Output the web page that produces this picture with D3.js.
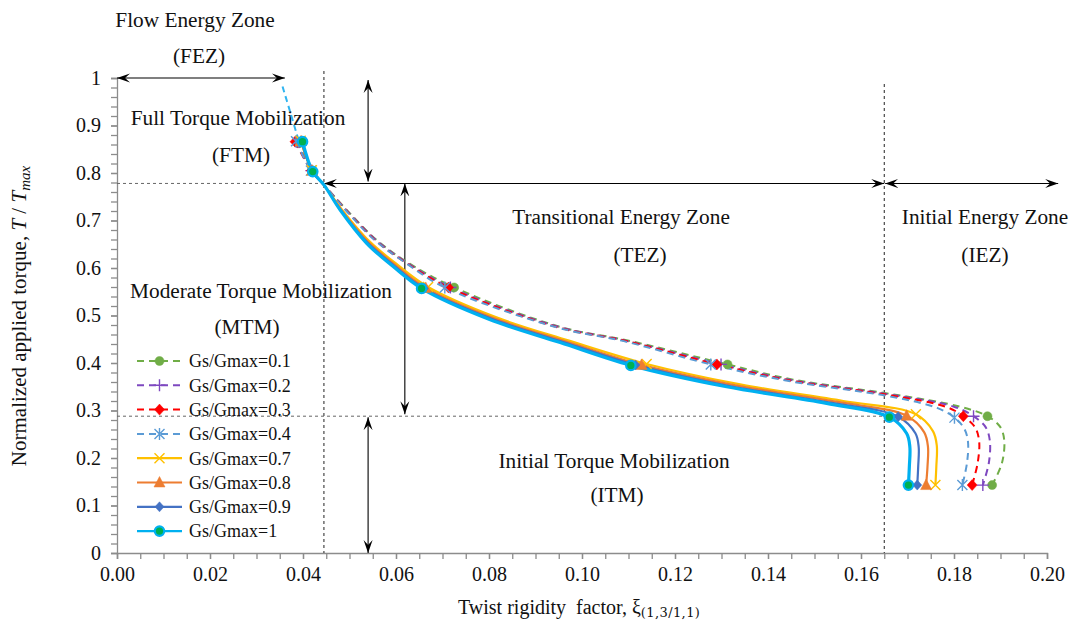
<!DOCTYPE html>
<html>
<head>
<meta charset="utf-8">
<script src="https://cdn.jsdelivr.net/npm/d3@7"></script>
<style>
  body { margin: 0; background: #fff; }
  text { font-family: "Liberation Serif", "Times New Roman", serif; fill: #111; }
</style>
</head>
<body>
<svg id="chart" width="1075" height="630"></svg>
<script>
// ---- Data: normalized torque T/Tmax against twist rigidity factor ----
const seriesNames = ["Gs/Gmax=0.1", "Gs/Gmax=0.2", "Gs/Gmax=0.3", "Gs/Gmax=0.4",
                     "Gs/Gmax=0.7", "Gs/Gmax=0.8", "Gs/Gmax=0.9", "Gs/Gmax=1"];

// [xi, T/Tmax] pairs along each curve
const g01 = [[0.0388,0.866],[0.0419,0.806],[0.0445,0.775],[0.0501,0.715],[0.0558,0.659],[0.0623,0.613],
             [0.0725,0.559],[0.0953,0.476],[0.1096,0.448],[0.1313,0.397],[0.1454,0.365],[0.1669,0.334],
             [0.1813,0.308],[0.1872,0.288],[0.1899,0.266],[0.1908,0.238],[0.1903,0.189],[0.1882,0.143]];
const g02 = [[0.0386,0.866],[0.0418,0.805],[0.0445,0.775],[0.0500,0.715],[0.0557,0.659],[0.0621,0.613],
             [0.0717,0.559],[0.0950,0.476],[0.1094,0.447],[0.1299,0.397],[0.1450,0.364],[0.1666,0.333],
             [0.1800,0.308],[0.1842,0.288],[0.1868,0.265],[0.1877,0.237],[0.1875,0.190],[0.1862,0.143]];
const g03 = [[0.0383,0.866],[0.0418,0.805],[0.0445,0.775],[0.0500,0.714],[0.0556,0.658],[0.0620,0.612],
             [0.0713,0.559],[0.0948,0.475],[0.1092,0.447],[0.1290,0.397],[0.1448,0.363],[0.1663,0.332],
             [0.1785,0.307],[0.1820,0.288],[0.1845,0.265],[0.1854,0.236],[0.1851,0.190],[0.1839,0.143]];
const g04 = [[0.0385,0.867],[0.0417,0.805],[0.0445,0.775],[0.0499,0.714],[0.0555,0.658],[0.0619,0.612],
             [0.0705,0.559],[0.0946,0.475],[0.1090,0.446],[0.1277,0.397],[0.1445,0.362],[0.1660,0.330],
             [0.1765,0.305],[0.1801,0.285],[0.1822,0.262],[0.1830,0.235],[0.1828,0.190],[0.1818,0.143]];
const g07 = [[0.0395,0.868],[0.0419,0.806],[0.0445,0.775],[0.0483,0.724],[0.0543,0.656],[0.0603,0.607],
             [0.0669,0.560],[0.0816,0.496],[0.0972,0.447],[0.1139,0.398],[0.1340,0.355],[0.1562,0.320],
             [0.1718,0.292],[0.1755,0.256],[0.1763,0.226],[0.1762,0.182],[0.1760,0.143]];
const g08 = [[0.0396,0.867],[0.0420,0.805],[0.0445,0.775],[0.0482,0.723],[0.0541,0.654],[0.0600,0.605],
             [0.0664,0.558],[0.0811,0.494],[0.0966,0.445],[0.1128,0.396],[0.1330,0.353],[0.1550,0.318],
             [0.1698,0.289],[0.1736,0.254],[0.1744,0.224],[0.1743,0.182],[0.1740,0.143]];
const g09 = [[0.0397,0.866],[0.0420,0.804],[0.0445,0.775],[0.0481,0.722],[0.0539,0.653],[0.0597,0.604],
             [0.0660,0.557],[0.0806,0.493],[0.0960,0.444],[0.1115,0.396],[0.1320,0.351],[0.1538,0.316],
             [0.1680,0.287],[0.1717,0.252],[0.1724,0.224],[0.1723,0.182],[0.1721,0.143]];
const g10 = [[0.0399,0.866],[0.0421,0.803],[0.0445,0.775],[0.0480,0.722],[0.0537,0.652],[0.0594,0.603],
             [0.0655,0.557],[0.0800,0.492],[0.0953,0.443],[0.1105,0.395],[0.1311,0.350],[0.1526,0.315],
             [0.1661,0.286],[0.1698,0.252],[0.1705,0.224],[0.1704,0.182],[0.1702,0.143]];
const seriesValues = [g01, g02, g03, g04, g07, g08, g09, g10];

// indices of the points that carry a marker symbol
const markerIdxDashed = [0, 1, 6, 9, 13, 17];
const markerIdxSolid  = [0, 1, 6, 9, 12, 16];

// flow-zone extension of the stiffest curve towards full torque
const flowExtension = [[0.0356,0.982],[0.0372,0.930],[0.0389,0.874]];

// zone boundaries
const xBoundTEZ = 0.0445, xBoundIEZ = 0.165;
const yBoundFTM = 0.778,  yBoundITM = 0.288;

const xTicks = d3.range(0, 0.2001, 0.02);
const xMinorTicks = d3.range(0, 0.2001, 0.005);
const yTicks = d3.range(0, 1.0001, 0.1);
const yMinorTicks = d3.range(0, 1.0001, 0.02);

// ---- Styles ----
const colors  = ["#70AD47", "#7E48C0", "#FF0000", "#5B9BD5", "#FFC000", "#ED7D31", "#4472C4", "#00B0F0"];
const dashed  = [true, true, true, true, false, false, false, false];
const symbols = ["circle", "plus", "diamond", "asterisk", "x", "triangle", "smalldiamond", "ringcircle"];

const svg = d3.select("#chart");
const x = d3.scaleLinear().domain([0, 0.2]).range([117, 1047]);
const y = d3.scaleLinear().domain([0, 1]).range([553, 78]);

// arrowhead
const defs = svg.append("defs");
defs.append("marker")
  .attr("id", "arrow").attr("viewBox", "-13 -6 14 12")
  .attr("refX", 0).attr("refY", 0)
  .attr("markerWidth", 14).attr("markerHeight", 12)
  .attr("markerUnits", "userSpaceOnUse")
  .attr("orient", "auto-start-reverse")
  .append("path").attr("d", "M0,0 L-13,-4.5 L-8,0 L-13,4.5 Z").attr("fill", "#000");

// ---- Axes ----
const axisColor = "#8c8c8c";
svg.append("g").attr("transform", `translate(0,${y(0)})`)
  .call(d3.axisBottom(x).tickValues(xTicks).tickFormat(d3.format(".2f")).tickSize(6).tickPadding(8));
svg.append("g").attr("transform", `translate(0,${y(0)})`)
  .call(d3.axisBottom(x).tickValues(xMinorTicks).tickFormat("").tickSize(6))
  .call(g => g.select(".domain").remove());
svg.append("g").attr("transform", `translate(${x(0)},0)`)
  .call(d3.axisLeft(y).tickValues(yTicks).tickFormat(d => d3.format("")(+d.toFixed(1))).tickSize(6).tickPadding(10));
svg.append("g").attr("transform", `translate(${x(0)},0)`)
  .call(d3.axisLeft(y).tickValues(yMinorTicks).tickFormat("").tickSize(6))
  .call(g => g.select(".domain").remove());
svg.selectAll(".domain, .tick line").attr("stroke", axisColor).attr("stroke-width", 1.3);
svg.selectAll(".tick text").style("font-family", '"Liberation Serif", serif')
  .style("font-size", "20px").attr("fill", "#111");

// ---- Zone boundary lines ----
const guide = svg.append("g").attr("stroke", "#222").attr("stroke-width", 1).attr("stroke-dasharray", "3,3").attr("fill", "none");
guide.append("line").attr("x1", x(xBoundTEZ)).attr("x2", x(xBoundTEZ)).attr("y1", 71).attr("y2", y(0));
guide.append("line").attr("x1", x(xBoundIEZ)).attr("x2", x(xBoundIEZ)).attr("y1", 84).attr("y2", y(0));
guide.append("line").attr("x1", x(0)).attr("x2", x(xBoundTEZ)).attr("y1", y(yBoundFTM)).attr("y2", y(yBoundFTM)).attr("stroke", "#666");
guide.append("line").attr("x1", x(0)).attr("x2", x(xBoundIEZ)).attr("y1", y(yBoundITM)).attr("y2", y(yBoundITM)).attr("stroke", "#666");

// ---- Double arrows marking the zones ----
const arrows = [
  [[0, 1.0], [0.0361, 1.0]],
  [[0.054, 0.996], [0.054, yBoundFTM + 0.004]],
  [[xBoundTEZ, yBoundFTM], [xBoundIEZ, yBoundFTM]],
  [[xBoundIEZ + 0.0002, yBoundFTM], [0.2024, yBoundFTM]],
  [[0.0619, yBoundFTM], [0.0619, yBoundITM + 0.004]],
  [[0.054, yBoundITM - 0.002], [0.054, 0]]
];
svg.append("g").selectAll("line").data(arrows).join("line")
  .attr("x1", d => x(d[0][0])).attr("y1", d => y(d[0][1]))
  .attr("x2", d => x(d[1][0])).attr("y2", d => y(d[1][1]))
  .attr("stroke", "#000").attr("stroke-width", 1.1)
  .attr("marker-start", "url(#arrow)").attr("marker-end", "url(#arrow)");

// ---- Zone labels ----
const labels = [
  ["Flow Energy Zone", 195, 27], ["(FEZ)", 199, 63],
  ["Full Torque Mobilization", 238, 125], ["(FTM)", 241, 162],
  ["Transitional Energy Zone", 621, 224], ["(TEZ)", 640, 262],
  ["Initial Energy Zone", 985, 224], ["(IEZ)", 985, 262],
  ["Moderate Torque Mobilization", 261, 298], ["(MTM)", 247, 334],
  ["Initial Torque Mobilization", 614, 468], ["(ITM)", 617, 502]
];
svg.append("g").selectAll("text").data(labels).join("text")
  .attr("x", d => d[1]).attr("y", d => d[2]).attr("text-anchor", "middle")
  .style("font-size", "21.3px").text(d => d[0]);

// ---- Symbols ----
function symbolPath(type) {
  switch (type) {
    case "circle":       return d3.symbol(d3.symbolCircle, 64)();
    case "ringcircle":   return d3.symbol(d3.symbolCircle, 70)();
    case "diamond":      return "M0,-5.5L5,0L0,5.5L-5,0Z";
    case "smalldiamond": return "M0,-5L4.5,0L0,5L-4.5,0Z";
    case "triangle":     return "M0,-6L5.5,4.5L-5.5,4.5Z";
    case "plus":         return "M-6,0H6M0,-6V6";
    case "x":            return "M-5,-5L5,5M-5,5L5,-5";
    case "asterisk":     return "M-5,-5L5,5M-5,5L5,-5M0,-6V6";
  }
}
function drawSymbol(g, i, cx, cy) {
  const type = symbols[i], c = colors[i];
  const p = g.append("path").attr("d", symbolPath(type)).attr("transform", `translate(${cx},${cy})`);
  if (type === "plus" || type === "x" || type === "asterisk") {
    p.attr("fill", "none").attr("stroke", c).attr("stroke-width", 1.4);
  } else if (type === "ringcircle") {
    p.attr("fill", "#00B050").attr("stroke", c).attr("stroke-width", 2.2);
  } else {
    p.attr("fill", c).attr("stroke", c).attr("stroke-width", 0.5);
  }
}

// ---- Curves ----
const line = d3.line().x(d => x(d[0])).y(d => y(d[1])).curve(d3.curveCatmullRom.alpha(0.5));
const plot = svg.append("g");

plot.append("path").datum(flowExtension).attr("d", line)
  .attr("fill", "none").attr("stroke", "#30B4F0").attr("stroke-width", 2)
  .attr("stroke-dasharray", "6,4");

seriesValues.forEach((vals, i) => {
  plot.append("path").datum(vals).attr("d", line)
    .attr("fill", "none").attr("stroke", colors[i])
    .attr("stroke-width", i === 7 ? 3.2 : (dashed[i] ? 2 : 2.2))
    .attr("stroke-dasharray", dashed[i] ? "7,5" : null);
});
seriesValues.forEach((vals, i) => {
  const idx = dashed[i] ? markerIdxDashed : markerIdxSolid;
  const g = plot.append("g");
  idx.forEach(k => drawSymbol(g, i, x(vals[k][0]), y(vals[k][1])));
});

// ---- Legend ----
const legend = svg.append("g");
seriesNames.forEach((name, i) => {
  const ly = 361 + i * 24.3;
  legend.append("line").attr("x1", 137).attr("x2", 182).attr("y1", ly).attr("y2", ly)
    .attr("stroke", colors[i]).attr("stroke-width", dashed[i] ? 2 : 2.2)
    .attr("stroke-dasharray", dashed[i] ? "7,5" : null);
  drawSymbol(legend, i, 159.5, ly);
  legend.append("text").attr("x", 189).attr("y", ly).attr("dy", "0.35em")
    .style("font-size", "18px").text(name);
});

// ---- Axis titles ----
const xt = svg.append("text").attr("x", 458).attr("y", 614).attr("text-anchor", "start").style("font-size", "20px");
xt.append("tspan").text("Twist rigidity\u00a0 factor, \u03be");
xt.append("tspan").attr("baseline-shift", "-25%").style("font-size", "13px")
  .style("letter-spacing", "0.4px")
  .style("font-family", '"DejaVu Serif", serif').text("(1,3/1,1)");

const yt = svg.append("text").attr("transform", "translate(26,316) rotate(-90)")
  .attr("text-anchor", "middle").style("font-size", "21px");
yt.append("tspan").text("Normalized applied torque, ");
yt.append("tspan").style("font-style", "italic").text("T");
yt.append("tspan").text(" / ");
yt.append("tspan").style("font-style", "italic").text("T");
yt.append("tspan").style("font-style", "italic").style("font-size", "15px").attr("baseline-shift", "-25%").text("max");
</script>
</body>
</html>
